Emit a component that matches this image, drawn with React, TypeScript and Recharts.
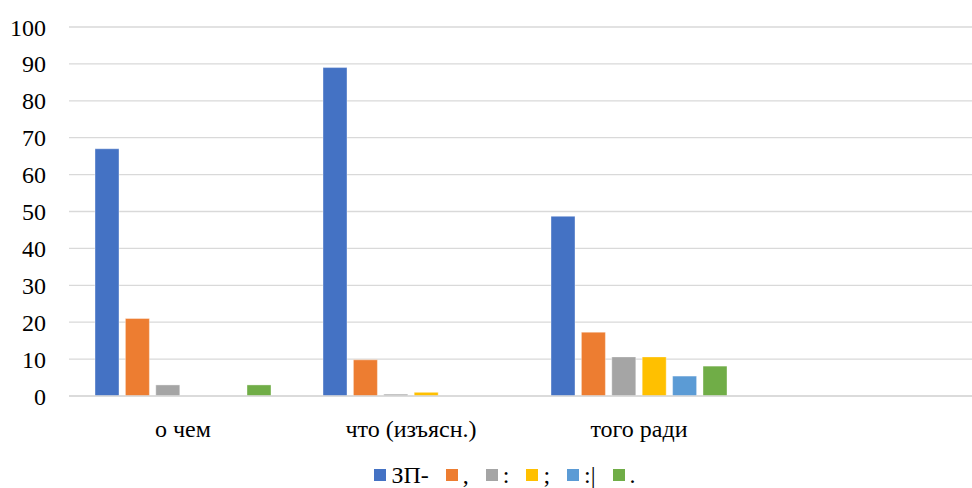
import React from 'react';
import { BarChart, Bar, XAxis, YAxis, CartesianGrid, Legend } from 'recharts';

// categories (the last band is left empty)
const categories = ['о чем', 'что (изъясн.)', 'того ради', ''];

// series values per category
const zpDash = [67, 89, 48.7, null];
const comma = [21, 9.8, 17.3, null];
const colon = [3, 0.5, 10.6, null];
const semicolon = [0, 1, 10.6, null];
const colonBar = [0, 0, 5.4, null];
const period = [3, 0, 8.1, null];

const yTicks = [0, 10, 20, 30, 40, 50, 60, 70, 80, 90, 100];

const series = [
  { key: 'zp', name: 'ЗП-', values: zpDash, color: '#4472C4' },
  { key: 'comma', name: ',', values: comma, color: '#ED7D31' },
  { key: 'colon', name: ':', values: colon, color: '#A5A5A5' },
  { key: 'semicolon', name: ';', values: semicolon, color: '#FFC000' },
  { key: 'colonBar', name: ':|', values: colonBar, color: '#5B9BD5' },
  { key: 'period', name: '.', values: period, color: '#70AD47' },
];

const data = categories.map((c, i) => {
  const row: Record<string, string | number | null> = { category: c };
  series.forEach((s) => {
    row[s.key] = s.values[i];
  });
  return row;
});

const FONT = "'Liberation Serif', 'Times New Roman', serif";

const renderLegend = () => (
  <div
    style={{
      width: 981,
      height: 26,
      display: 'flex',
      justifyContent: 'center',
      alignItems: 'center',
      paddingLeft: 46,
      boxSizing: 'border-box',
      fontFamily: FONT,
      fontSize: 24,
      color: '#000',
    }}
  >
    {series.map((s) => (
      <div key={s.key} style={{ display: 'flex', alignItems: 'center', marginRight: 17 }}>
        <span style={{ width: 12, height: 12, background: s.color, marginRight: 5, display: 'inline-block' }} />
        <span>{s.name}</span>
      </div>
    ))}
  </div>
);

export default function App() {
  return (
    <div
      style={{
        position: 'absolute',
        left: 0,
        top: 0,
        width: 972,
        height: 488,
        overflow: 'hidden',
        background: '#fff',
        fontFamily: FONT,
      }}
    >
      <BarChart
        width={981}
        height={488}
        data={data}
        margin={{ top: 27, right: 0, bottom: 0, left: 0 }}
        barSize={24}
        barGap={6.4}
      >
        <CartesianGrid vertical={false} stroke="#D9D9D9" strokeWidth={1.3} />
        <XAxis
          dataKey="category"
          height={66}
          tickLine={false}
          axisLine={{ stroke: '#D9D9D9', strokeWidth: 1.3 }}
          tickSize={0}
          tickMargin={24}
          tick={{ fill: '#000', fontSize: 24, fontFamily: FONT }}
          interval={0}
        />
        <YAxis
          width={69}
          domain={[0, 100]}
          ticks={yTicks}
          axisLine={false}
          tickLine={false}
          tickSize={0}
          tickMargin={23}
          tick={{ fill: '#000', fontSize: 24, fontFamily: FONT }}
        />
        <Legend verticalAlign="bottom" content={renderLegend} wrapperStyle={{ left: 0, width: 981 }} />
        {series.map((s) => (
          <Bar
            key={s.key}
            dataKey={s.key}
            name={s.name}
            fill={s.color}
            stroke="#ffffff"
            strokeOpacity={0.5}
            strokeWidth={0.75}
            isAnimationActive={false}
          />
        ))}
      </BarChart>
    </div>
  );
}
